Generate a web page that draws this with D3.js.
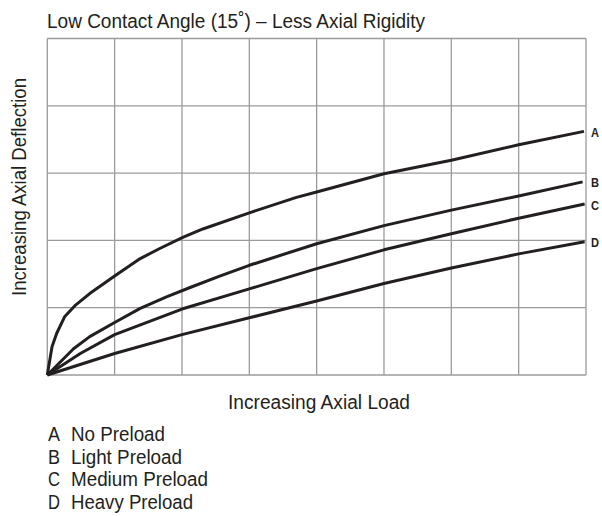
<!DOCTYPE html>
<html>
<head>
<meta charset="utf-8">
<script src="https://cdn.jsdelivr.net/npm/d3@7"></script>
<style>
  html, body { margin: 0; padding: 0; background: #fff; }
  svg { display: block; }
  text { font-family: "Liberation Sans", Arial, "Roboto", sans-serif; fill: #231f20; }
</style>
</head>
<body>
<svg id="chart" width="602" height="516"></svg>
<script>
// ---- data (grid units: load 0..8, deflection 0..5) ----
const title = "Low Contact Angle (15˚) – Less Axial Rigidity";
const xLabel = "Increasing Axial Load";
const yLabel = "Increasing Axial Deflection";
const gridX = [0, 1, 2, 3, 4, 5, 6, 7, 8];
const gridY = [0, 1, 2, 3, 4, 5];
const seriesKeys = ["A", "B", "C", "D"];
const seriesNames = ["No Preload", "Light Preload", "Medium Preload", "Heavy Preload"];
const loadA = [0, 0.07, 0.14, 0.26, 0.41, 0.63, 1.0, 1.38, 1.67, 2.02, 2.31, 3.0, 3.7, 4.0, 5.0, 6.0, 7.0, 7.97];
const deflA = [0, 0.42, 0.62, 0.87, 1.03, 1.21, 1.47, 1.73, 1.88, 2.05, 2.17, 2.41, 2.64, 2.72, 2.99, 3.19, 3.42, 3.62];
const loadB = [0, 0.39, 0.63, 1.0, 1.38, 1.77, 2.12, 2.56, 3.0, 4.0, 5.0, 6.0, 7.0, 7.95];
const deflB = [0, 0.39, 0.57, 0.78, 0.99, 1.16, 1.30, 1.47, 1.63, 1.95, 2.22, 2.45, 2.66, 2.87];
const loadC = [0, 0.49, 1.0, 2.0, 3.0, 4.0, 5.0, 6.0, 7.0, 7.98];
const deflC = [0, 0.32, 0.60, 0.98, 1.28, 1.58, 1.86, 2.10, 2.33, 2.54];
const loadD = [0, 1.0, 2.0, 3.0, 4.0, 5.0, 6.0, 7.0, 7.98];
const deflD = [0, 0.32, 0.60, 0.85, 1.10, 1.36, 1.59, 1.80, 1.98];

const loads = [loadA, loadB, loadC, loadD];
const defls = [deflA, deflB, deflC, deflD];
const series = seriesKeys.map((k, i) => ({
  key: k,
  name: seriesNames[i],
  points: loads[i].map((v, j) => ({ x: v, y: defls[i][j] }))
}));

// ---- layout ----
const svg = d3.select("#chart");
const plotLeft = 47.3, plotRight = 586, plotTop = 38.5, plotBottom = 375;
const x = d3.scaleLinear().domain([0, 8]).range([plotLeft, plotRight]);
const y = d3.scaleLinear().domain([0, 5]).range([plotBottom, plotTop]);

// grid
const grid = svg.append("g").attr("stroke", "#9b9b9b").attr("stroke-width", 1.3).attr("fill", "none");
grid.selectAll("line.v").data(gridX).join("line")
  .attr("class", "v")
  .attr("x1", d => x(d)).attr("x2", d => x(d))
  .attr("y1", y(0)).attr("y2", y(5));
grid.selectAll("line.h").data(gridY).join("line")
  .attr("class", "h")
  .attr("x1", x(0)).attr("x2", x(8))
  .attr("y1", d => y(d)).attr("y2", d => y(d));

// curves
const line = d3.line().x(d => x(d.x)).y(d => y(d.y)).curve(d3.curveLinear);
svg.append("g").selectAll("path").data(series).join("path")
  .attr("d", d => line(d.points))
  .attr("fill", "none")
  .attr("stroke", "#231f20")
  .attr("stroke-width", 3)
  .attr("stroke-linejoin", "round")
  .attr("stroke-linecap", "butt");

// end labels
svg.append("g").selectAll("text").data(series).join("text")
  .attr("x", 591)
  .attr("y", d => y(d.points[d.points.length - 1].y) + 5.5)
  .attr("font-weight", "bold")
  .attr("font-size", 13)
  .attr("textLength", 8).attr("lengthAdjust", "spacingAndGlyphs")
  .text(d => d.key);

// title
svg.append("text")
  .attr("x", 47).attr("y", 27.5)
  .attr("font-size", 19.5)
  .attr("textLength", 378).attr("lengthAdjust", "spacingAndGlyphs")
  .text(title);

// x label
svg.append("text")
  .attr("x", 228).attr("y", 408.5)
  .attr("font-size", 19.5)
  .attr("textLength", 182).attr("lengthAdjust", "spacingAndGlyphs")
  .text(xLabel);

// y label
svg.append("text")
  .attr("transform", "translate(25.5,296) rotate(-90)")
  .attr("x", 0).attr("y", 0)
  .attr("font-size", 19.5)
  .attr("textLength", 218).attr("lengthAdjust", "spacingAndGlyphs")
  .text(yLabel);

// legend
const legendWidths = [94, 111, 137, 122];
const leg = svg.append("g");
series.forEach((s, i) => {
  const by = 441 + i * 22.5;
  leg.append("text").attr("x", 48).attr("y", by).attr("font-size", 19.5)
    .attr("textLength", 12).attr("lengthAdjust", "spacingAndGlyphs").text(s.key);
  leg.append("text").attr("x", 71).attr("y", by).attr("font-size", 19.5)
    .attr("textLength", legendWidths[i]).attr("lengthAdjust", "spacingAndGlyphs")
    .text(s.name);
});
</script>
</body>
</html>
